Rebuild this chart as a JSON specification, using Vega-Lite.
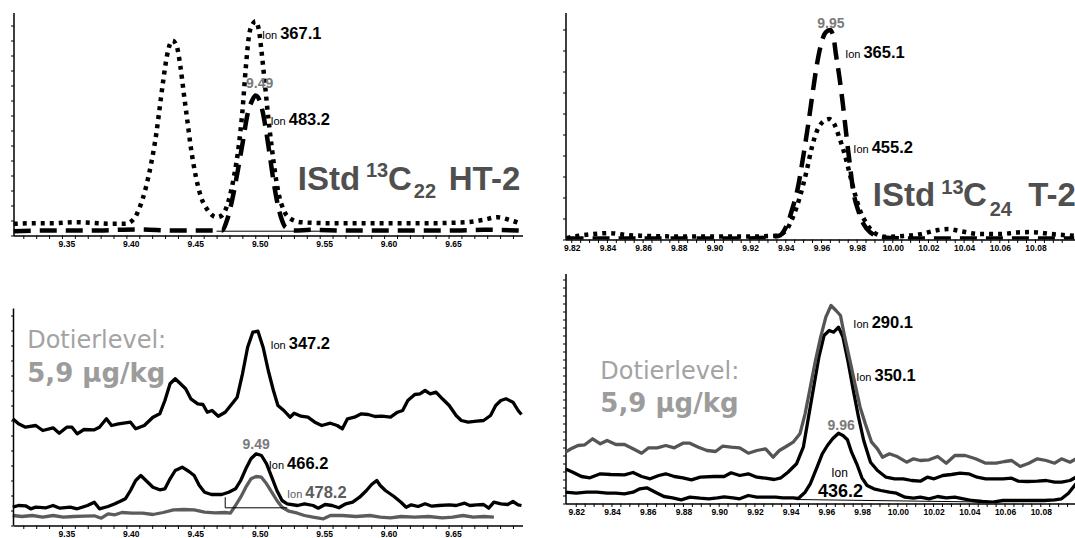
{
  "$schema": "https://vega.github.io/schema/vega-lite/v6.json",
  "background": "white",
  "padding": {"left": 4.5, "top": 11.5, "right": 0, "bottom": 0},
  "config": {
    "view": {"stroke": null},
    "axis": {"domainColor": "black", "domainWidth": 1.5, "tickColor": "black", "tickWidth": 1, "tickSize": 3, "labelColor": "black", "labelFont": "Liberation Sans", "labelFontWeight": "bold", "labelFontSize": 8.5, "labelPadding": 4, "labelFlush": false, "labelOverlap": false, "grid": false, "title": null}
  },
  "spacing": 21,
  "datasets": {
    "ticksLeft": [{"t": 9.31}, {"t": 9.32}, {"t": 9.33}, {"t": 9.34}, {"t": 9.35}, {"t": 9.36}, {"t": 9.37}, {"t": 9.38}, {"t": 9.39}, {"t": 9.4}, {"t": 9.41}, {"t": 9.42}, {"t": 9.43}, {"t": 9.44}, {"t": 9.45}, {"t": 9.46}, {"t": 9.47}, {"t": 9.48}, {"t": 9.49}, {"t": 9.5}, {"t": 9.51}, {"t": 9.52}, {"t": 9.53}, {"t": 9.54}, {"t": 9.55}, {"t": 9.56}, {"t": 9.57}, {"t": 9.58}, {"t": 9.59}, {"t": 9.6}, {"t": 9.61}, {"t": 9.62}, {"t": 9.63}, {"t": 9.64}, {"t": 9.65}, {"t": 9.66}, {"t": 9.67}, {"t": 9.68}, {"t": 9.69}],
    "ticksRight": [{"t": 9.82}, {"t": 9.825}, {"t": 9.83}, {"t": 9.835}, {"t": 9.84}, {"t": 9.845}, {"t": 9.85}, {"t": 9.855}, {"t": 9.86}, {"t": 9.865}, {"t": 9.87}, {"t": 9.875}, {"t": 9.88}, {"t": 9.885}, {"t": 9.89}, {"t": 9.895}, {"t": 9.9}, {"t": 9.905}, {"t": 9.91}, {"t": 9.915}, {"t": 9.92}, {"t": 9.925}, {"t": 9.93}, {"t": 9.935}, {"t": 9.94}, {"t": 9.945}, {"t": 9.95}, {"t": 9.955}, {"t": 9.96}, {"t": 9.965}, {"t": 9.97}, {"t": 9.975}, {"t": 9.98}, {"t": 9.985}, {"t": 9.99}, {"t": 9.995}, {"t": 10}, {"t": 10.005}, {"t": 10.01}, {"t": 10.015}, {"t": 10.02}, {"t": 10.025}, {"t": 10.03}, {"t": 10.035}, {"t": 10.04}, {"t": 10.045}, {"t": 10.05}, {"t": 10.055}, {"t": 10.06}, {"t": 10.065}, {"t": 10.07}, {"t": 10.075}, {"t": 10.08}, {"t": 10.085}, {"t": 10.09}, {"t": 10.095}],
    "tl": [
      {"ion": "367.1", "t": 9.3022, "y": 11.7}, {"ion": "367.1", "t": 9.3193, "y": 12.3}, {"ion": "367.1", "t": 9.3327, "y": 12.3}, {"ion": "367.1", "t": 9.3499, "y": 13.3}, {"ion": "367.1", "t": 9.3621, "y": 12.7}, {"ion": "367.1", "t": 9.3781, "y": 11.7}, {"ion": "367.1", "t": 9.3888, "y": 11.7}, {"ion": "367.1", "t": 9.3955, "y": 16.7}, {"ion": "367.1", "t": 9.3995, "y": 26.7}, {"ion": "367.1", "t": 9.4048, "y": 48.3}, {"ion": "367.1", "t": 9.4088, "y": 71.7}, {"ion": "367.1", "t": 9.4128, "y": 101.7}, {"ion": "367.1", "t": 9.4155, "y": 128.3}, {"ion": "367.1", "t": 9.4182, "y": 155}, {"ion": "367.1", "t": 9.4209, "y": 178.3}, {"ion": "367.1", "t": 9.4235, "y": 191.7}, {"ion": "367.1", "t": 9.4254, "y": 195}, {"ion": "367.1", "t": 9.4289, "y": 188.3}, {"ion": "367.1", "t": 9.4316, "y": 168.3}, {"ion": "367.1", "t": 9.4342, "y": 141.7}, {"ion": "367.1", "t": 9.4369, "y": 115}, {"ion": "367.1", "t": 9.4396, "y": 88.3}, {"ion": "367.1", "t": 9.4436, "y": 58.3}, {"ion": "367.1", "t": 9.4476, "y": 38.3}, {"ion": "367.1", "t": 9.4529, "y": 25}, {"ion": "367.1", "t": 9.4596, "y": 18.3}, {"ion": "367.1", "t": 9.4636, "y": 20}, {"ion": "367.1", "t": 9.469, "y": 35}, {"ion": "367.1", "t": 9.473, "y": 58.3}, {"ion": "367.1", "t": 9.477, "y": 91.7}, {"ion": "367.1", "t": 9.4797, "y": 125}, {"ion": "367.1", "t": 9.4823, "y": 168.3}, {"ion": "367.1", "t": 9.485, "y": 201.7}, {"ion": "367.1", "t": 9.4877, "y": 211.7}, {"ion": "367.1", "t": 9.4898, "y": 214.3}, {"ion": "367.1", "t": 9.4925, "y": 205}, {"ion": "367.1", "t": 9.4944, "y": 185}, {"ion": "367.1", "t": 9.4971, "y": 151.7}, {"ion": "367.1", "t": 9.4997, "y": 118.3}, {"ion": "367.1", "t": 9.5024, "y": 88.3}, {"ion": "367.1", "t": 9.5051, "y": 61.7}, {"ion": "367.1", "t": 9.5078, "y": 41.7}, {"ion": "367.1", "t": 9.5118, "y": 25}, {"ion": "367.1", "t": 9.5171, "y": 16.7}, {"ion": "367.1", "t": 9.5251, "y": 13.3}, {"ion": "367.1", "t": 9.5465, "y": 12.3}, {"ion": "367.1", "t": 9.5732, "y": 12.3}, {"ion": "367.1", "t": 9.5999, "y": 12.3}, {"ion": "367.1", "t": 9.6267, "y": 12.3}, {"ion": "367.1", "t": 9.6534, "y": 13.3}, {"ion": "367.1", "t": 9.6668, "y": 15.7}, {"ion": "367.1", "t": 9.6775, "y": 18.3}, {"ion": "367.1", "t": 9.6882, "y": 15}, {"ion": "367.1", "t": 9.6949, "y": 12.3},
      {"ion": "483.2", "t": 9.3022, "y": 4.3}, {"ion": "483.2", "t": 9.3327, "y": 5}, {"ion": "483.2", "t": 9.3594, "y": 5}, {"ion": "483.2", "t": 9.3995, "y": 6}, {"ion": "483.2", "t": 9.4262, "y": 5}, {"ion": "483.2", "t": 9.4529, "y": 5}, {"ion": "483.2", "t": 9.4636, "y": 5}, {"ion": "483.2", "t": 9.4676, "y": 15}, {"ion": "483.2", "t": 9.4716, "y": 35}, {"ion": "483.2", "t": 9.4756, "y": 61.7}, {"ion": "483.2", "t": 9.4797, "y": 91.7}, {"ion": "483.2", "t": 9.4837, "y": 121.7}, {"ion": "483.2", "t": 9.4872, "y": 135}, {"ion": "483.2", "t": 9.4898, "y": 140}, {"ion": "483.2", "t": 9.493, "y": 135}, {"ion": "483.2", "t": 9.4957, "y": 121.7}, {"ion": "483.2", "t": 9.4984, "y": 101.7}, {"ion": "483.2", "t": 9.5011, "y": 78.3}, {"ion": "483.2", "t": 9.5037, "y": 55}, {"ion": "483.2", "t": 9.5064, "y": 35}, {"ion": "483.2", "t": 9.5096, "y": 18.3}, {"ion": "483.2", "t": 9.5131, "y": 8.3}, {"ion": "483.2", "t": 9.5198, "y": 5}, {"ion": "483.2", "t": 9.5331, "y": 5.7}, {"ion": "483.2", "t": 9.5599, "y": 5}, {"ion": "483.2", "t": 9.5866, "y": 5}, {"ion": "483.2", "t": 9.6133, "y": 5}, {"ion": "483.2", "t": 9.64, "y": 5}, {"ion": "483.2", "t": 9.6668, "y": 5.7}, {"ion": "483.2", "t": 9.6962, "y": 5}
    ],
    "tr": [
      {"ion": "365.1", "t": 9.8171, "y": 1}, {"ion": "365.1", "t": 9.8413, "y": 1}, {"ion": "365.1", "t": 9.88, "y": 1}, {"ion": "365.1", "t": 9.9187, "y": 1}, {"ion": "365.1", "t": 9.9362, "y": 3.7}, {"ion": "365.1", "t": 9.94, "y": 12}, {"ion": "365.1", "t": 9.9439, "y": 32}, {"ion": "365.1", "t": 9.9468, "y": 52}, {"ion": "365.1", "t": 9.9497, "y": 82}, {"ion": "365.1", "t": 9.9526, "y": 115.4}, {"ion": "365.1", "t": 9.9555, "y": 152}, {"ion": "365.1", "t": 9.9575, "y": 175.4}, {"ion": "365.1", "t": 9.9598, "y": 195.4}, {"ion": "365.1", "t": 9.9623, "y": 207}, {"ion": "365.1", "t": 9.9648, "y": 209.4}, {"ion": "365.1", "t": 9.9668, "y": 202}, {"ion": "365.1", "t": 9.9681, "y": 185.4}, {"ion": "365.1", "t": 9.9701, "y": 162}, {"ion": "365.1", "t": 9.972, "y": 135.4}, {"ion": "365.1", "t": 9.9739, "y": 105.4}, {"ion": "365.1", "t": 9.9759, "y": 75.4}, {"ion": "365.1", "t": 9.9778, "y": 48.7}, {"ion": "365.1", "t": 9.9807, "y": 28.7}, {"ion": "365.1", "t": 9.9836, "y": 15.4}, {"ion": "365.1", "t": 9.9875, "y": 7}, {"ion": "365.1", "t": 9.9943, "y": 2}, {"ion": "365.1", "t": 10.0156, "y": 1}, {"ion": "365.1", "t": 10.0543, "y": 1}, {"ion": "365.1", "t": 10.1017, "y": 1},
      {"ion": "455.2", "t": 9.8171, "y": 1.4}, {"ion": "455.2", "t": 9.8239, "y": 3.7}, {"ion": "455.2", "t": 9.8316, "y": 5.4}, {"ion": "455.2", "t": 9.8413, "y": 6.4}, {"ion": "455.2", "t": 9.851, "y": 4.4}, {"ion": "455.2", "t": 9.8607, "y": 3.7}, {"ion": "455.2", "t": 9.88, "y": 3}, {"ion": "455.2", "t": 9.8994, "y": 3}, {"ion": "455.2", "t": 9.9187, "y": 3}, {"ion": "455.2", "t": 9.9342, "y": 3.7}, {"ion": "455.2", "t": 9.9381, "y": 6}, {"ion": "455.2", "t": 9.94, "y": 8.7}, {"ion": "455.2", "t": 9.9439, "y": 22}, {"ion": "455.2", "t": 9.9478, "y": 42}, {"ion": "455.2", "t": 9.9517, "y": 68.7}, {"ion": "455.2", "t": 9.9546, "y": 92}, {"ion": "455.2", "t": 9.9575, "y": 108.7}, {"ion": "455.2", "t": 9.9604, "y": 117}, {"ion": "455.2", "t": 9.9643, "y": 120.4}, {"ion": "455.2", "t": 9.9672, "y": 115.4}, {"ion": "455.2", "t": 9.97, "y": 102}, {"ion": "455.2", "t": 9.973, "y": 85.4}, {"ion": "455.2", "t": 9.9759, "y": 65.4}, {"ion": "455.2", "t": 9.9788, "y": 45.4}, {"ion": "455.2", "t": 9.9817, "y": 28.7}, {"ion": "455.2", "t": 9.9855, "y": 15.4}, {"ion": "455.2", "t": 9.9894, "y": 7}, {"ion": "455.2", "t": 9.9962, "y": 2.7}, {"ion": "455.2", "t": 10.0059, "y": 3.4}, {"ion": "455.2", "t": 10.0156, "y": 5.4}, {"ion": "455.2", "t": 10.0253, "y": 9.4}, {"ion": "455.2", "t": 10.0311, "y": 10.4}, {"ion": "455.2", "t": 10.0388, "y": 8}, {"ion": "455.2", "t": 10.0485, "y": 5.4}, {"ion": "455.2", "t": 10.0601, "y": 5.4}, {"ion": "455.2", "t": 10.0698, "y": 7}, {"ion": "455.2", "t": 10.0775, "y": 7.4}, {"ion": "455.2", "t": 10.0891, "y": 5.4}, {"ion": "455.2", "t": 10.1017, "y": 3.7}
    ],
    "bl": [
      {"ion": "347.2", "t": 9.3014, "y": 106.7}, {"ion": "347.2", "t": 9.3059, "y": 101.7}, {"ion": "347.2", "t": 9.3113, "y": 98.3}, {"ion": "347.2", "t": 9.3193, "y": 100}, {"ion": "347.2", "t": 9.3247, "y": 95}, {"ion": "347.2", "t": 9.3327, "y": 97.7}, {"ion": "347.2", "t": 9.3375, "y": 92.3}, {"ion": "347.2", "t": 9.3433, "y": 98.3}, {"ion": "347.2", "t": 9.3474, "y": 98.3}, {"ion": "347.2", "t": 9.3514, "y": 91.7}, {"ion": "347.2", "t": 9.3567, "y": 96}, {"ion": "347.2", "t": 9.3647, "y": 95.7}, {"ion": "347.2", "t": 9.3687, "y": 98.3}, {"ion": "347.2", "t": 9.3741, "y": 106.7}, {"ion": "347.2", "t": 9.3781, "y": 100}, {"ion": "347.2", "t": 9.3835, "y": 101.7}, {"ion": "347.2", "t": 9.3928, "y": 103.3}, {"ion": "347.2", "t": 9.3968, "y": 96.7}, {"ion": "347.2", "t": 9.4035, "y": 100}, {"ion": "347.2", "t": 9.4102, "y": 108.3}, {"ion": "347.2", "t": 9.4155, "y": 111.7}, {"ion": "347.2", "t": 9.4195, "y": 125}, {"ion": "347.2", "t": 9.4235, "y": 141.7}, {"ion": "347.2", "t": 9.4275, "y": 146.7}, {"ion": "347.2", "t": 9.4316, "y": 141.7}, {"ion": "347.2", "t": 9.4356, "y": 136.7}, {"ion": "347.2", "t": 9.4396, "y": 126.7}, {"ion": "347.2", "t": 9.445, "y": 121.7}, {"ion": "347.2", "t": 9.449, "y": 121}, {"ion": "347.2", "t": 9.4524, "y": 113.3}, {"ion": "347.2", "t": 9.4561, "y": 115}, {"ion": "347.2", "t": 9.4609, "y": 109.3}, {"ion": "347.2", "t": 9.4663, "y": 113.3}, {"ion": "347.2", "t": 9.4716, "y": 121.7}, {"ion": "347.2", "t": 9.4756, "y": 128.3}, {"ion": "347.2", "t": 9.4797, "y": 151.7}, {"ion": "347.2", "t": 9.4837, "y": 178.3}, {"ion": "347.2", "t": 9.4877, "y": 193.3}, {"ion": "347.2", "t": 9.4917, "y": 194.3}, {"ion": "347.2", "t": 9.4957, "y": 178.3}, {"ion": "347.2", "t": 9.4997, "y": 155}, {"ion": "347.2", "t": 9.5037, "y": 135}, {"ion": "347.2", "t": 9.5072, "y": 120}, {"ion": "347.2", "t": 9.5118, "y": 115}, {"ion": "347.2", "t": 9.5166, "y": 108.3}, {"ion": "347.2", "t": 9.5198, "y": 112.3}, {"ion": "347.2", "t": 9.5251, "y": 109.3}, {"ion": "347.2", "t": 9.5305, "y": 108.3}, {"ion": "347.2", "t": 9.5358, "y": 103.3}, {"ion": "347.2", "t": 9.5412, "y": 100}, {"ion": "347.2", "t": 9.5479, "y": 102.3}, {"ion": "347.2", "t": 9.5532, "y": 100}, {"ion": "347.2", "t": 9.5572, "y": 96.7}, {"ion": "347.2", "t": 9.5612, "y": 106.7}, {"ion": "347.2", "t": 9.5666, "y": 108.3}, {"ion": "347.2", "t": 9.5719, "y": 111.7}, {"ion": "347.2", "t": 9.5772, "y": 111}, {"ion": "347.2", "t": 9.5826, "y": 109}, {"ion": "347.2", "t": 9.588, "y": 109.3}, {"ion": "347.2", "t": 9.5946, "y": 108.3}, {"ion": "347.2", "t": 9.6, "y": 113.3}, {"ion": "347.2", "t": 9.604, "y": 115}, {"ion": "347.2", "t": 9.608, "y": 125}, {"ion": "347.2", "t": 9.6134, "y": 131}, {"ion": "347.2", "t": 9.6174, "y": 131.7}, {"ion": "347.2", "t": 9.6214, "y": 135}, {"ion": "347.2", "t": 9.6254, "y": 131.7}, {"ion": "347.2", "t": 9.6299, "y": 133.3}, {"ion": "347.2", "t": 9.6348, "y": 126.7}, {"ion": "347.2", "t": 9.6401, "y": 120}, {"ion": "347.2", "t": 9.6455, "y": 110}, {"ion": "347.2", "t": 9.6495, "y": 105}, {"ion": "347.2", "t": 9.6548, "y": 103.3}, {"ion": "347.2", "t": 9.6615, "y": 104.3}, {"ion": "347.2", "t": 9.6668, "y": 105}, {"ion": "347.2", "t": 9.6722, "y": 110}, {"ion": "347.2", "t": 9.6762, "y": 120}, {"ion": "347.2", "t": 9.6802, "y": 125}, {"ion": "347.2", "t": 9.6842, "y": 126.7}, {"ion": "347.2", "t": 9.6896, "y": 123.3}, {"ion": "347.2", "t": 9.6936, "y": 115}, {"ion": "347.2", "t": 9.6962, "y": 111},
      {"ion": "466.2", "t": 9.3014, "y": 18.3}, {"ion": "466.2", "t": 9.3059, "y": 20}, {"ion": "466.2", "t": 9.3113, "y": 19.7}, {"ion": "466.2", "t": 9.3153, "y": 16.7}, {"ion": "466.2", "t": 9.3193, "y": 18.3}, {"ion": "466.2", "t": 9.3273, "y": 17.7}, {"ion": "466.2", "t": 9.3327, "y": 20}, {"ion": "466.2", "t": 9.338, "y": 17.3}, {"ion": "466.2", "t": 9.346, "y": 18.3}, {"ion": "466.2", "t": 9.3514, "y": 16.7}, {"ion": "466.2", "t": 9.3594, "y": 20}, {"ion": "466.2", "t": 9.3647, "y": 23.3}, {"ion": "466.2", "t": 9.3687, "y": 16.7}, {"ion": "466.2", "t": 9.3754, "y": 19}, {"ion": "466.2", "t": 9.3807, "y": 21.7}, {"ion": "466.2", "t": 9.3861, "y": 25}, {"ion": "466.2", "t": 9.3888, "y": 26.7}, {"ion": "466.2", "t": 9.3928, "y": 35}, {"ion": "466.2", "t": 9.3968, "y": 45}, {"ion": "466.2", "t": 9.4008, "y": 50}, {"ion": "466.2", "t": 9.4048, "y": 45}, {"ion": "466.2", "t": 9.4102, "y": 38.3}, {"ion": "466.2", "t": 9.4155, "y": 35.7}, {"ion": "466.2", "t": 9.4195, "y": 36.7}, {"ion": "466.2", "t": 9.4235, "y": 46.7}, {"ion": "466.2", "t": 9.4275, "y": 55}, {"ion": "466.2", "t": 9.4329, "y": 58.3}, {"ion": "466.2", "t": 9.4382, "y": 54}, {"ion": "466.2", "t": 9.4422, "y": 50}, {"ion": "466.2", "t": 9.4462, "y": 40}, {"ion": "466.2", "t": 9.4503, "y": 33.3}, {"ion": "466.2", "t": 9.4556, "y": 31}, {"ion": "466.2", "t": 9.4636, "y": 31}, {"ion": "466.2", "t": 9.469, "y": 33.3}, {"ion": "466.2", "t": 9.4743, "y": 36.7}, {"ion": "466.2", "t": 9.4783, "y": 45}, {"ion": "466.2", "t": 9.4823, "y": 56.7}, {"ion": "466.2", "t": 9.4863, "y": 66.7}, {"ion": "466.2", "t": 9.4903, "y": 71.7}, {"ion": "466.2", "t": 9.4944, "y": 70}, {"ion": "466.2", "t": 9.4984, "y": 61.7}, {"ion": "466.2", "t": 9.5024, "y": 48.3}, {"ion": "466.2", "t": 9.5064, "y": 35}, {"ion": "466.2", "t": 9.5104, "y": 25}, {"ion": "466.2", "t": 9.5144, "y": 21.7}, {"ion": "466.2", "t": 9.5224, "y": 20}, {"ion": "466.2", "t": 9.5278, "y": 21.7}, {"ion": "466.2", "t": 9.5345, "y": 20}, {"ion": "466.2", "t": 9.5385, "y": 17.3}, {"ion": "466.2", "t": 9.5438, "y": 21}, {"ion": "466.2", "t": 9.5492, "y": 20}, {"ion": "466.2", "t": 9.5545, "y": 17.7}, {"ion": "466.2", "t": 9.5599, "y": 21.7}, {"ion": "466.2", "t": 9.5652, "y": 23.3}, {"ion": "466.2", "t": 9.5706, "y": 28.3}, {"ion": "466.2", "t": 9.5759, "y": 35}, {"ion": "466.2", "t": 9.5799, "y": 41}, {"ion": "466.2", "t": 9.5839, "y": 45}, {"ion": "466.2", "t": 9.5866, "y": 40}, {"ion": "466.2", "t": 9.5906, "y": 35}, {"ion": "466.2", "t": 9.5973, "y": 29}, {"ion": "466.2", "t": 9.6027, "y": 23.3}, {"ion": "466.2", "t": 9.6067, "y": 18.3}, {"ion": "466.2", "t": 9.6107, "y": 20.7}, {"ion": "466.2", "t": 9.616, "y": 19}, {"ion": "466.2", "t": 9.6214, "y": 21.7}, {"ion": "466.2", "t": 9.6267, "y": 19.3}, {"ion": "466.2", "t": 9.632, "y": 20}, {"ion": "466.2", "t": 9.6401, "y": 20.7}, {"ion": "466.2", "t": 9.6455, "y": 20}, {"ion": "466.2", "t": 9.6521, "y": 22.3}, {"ion": "466.2", "t": 9.6561, "y": 20}, {"ion": "466.2", "t": 9.6615, "y": 20.7}, {"ion": "466.2", "t": 9.6668, "y": 21}, {"ion": "466.2", "t": 9.6708, "y": 17.3}, {"ion": "466.2", "t": 9.6748, "y": 23.3}, {"ion": "466.2", "t": 9.6802, "y": 21.7}, {"ion": "466.2", "t": 9.6855, "y": 21}, {"ion": "466.2", "t": 9.6896, "y": 24}, {"ion": "466.2", "t": 9.6936, "y": 20.7}, {"ion": "466.2", "t": 9.6962, "y": 20},
      {"ion": "478.2", "t": 9.3014, "y": 10}, {"ion": "478.2", "t": 9.3086, "y": 9}, {"ion": "478.2", "t": 9.3166, "y": 10}, {"ion": "478.2", "t": 9.3247, "y": 8.3}, {"ion": "478.2", "t": 9.3327, "y": 10}, {"ion": "478.2", "t": 9.3407, "y": 8.3}, {"ion": "478.2", "t": 9.3487, "y": 9}, {"ion": "478.2", "t": 9.3567, "y": 9.3}, {"ion": "478.2", "t": 9.3647, "y": 9.7}, {"ion": "478.2", "t": 9.3701, "y": 7.3}, {"ion": "478.2", "t": 9.3754, "y": 11.7}, {"ion": "478.2", "t": 9.3807, "y": 10.7}, {"ion": "478.2", "t": 9.3861, "y": 13}, {"ion": "478.2", "t": 9.3941, "y": 12.3}, {"ion": "478.2", "t": 9.4021, "y": 12.3}, {"ion": "478.2", "t": 9.4102, "y": 11}, {"ion": "478.2", "t": 9.4182, "y": 13}, {"ion": "478.2", "t": 9.4262, "y": 15.7}, {"ion": "478.2", "t": 9.4342, "y": 16}, {"ion": "478.2", "t": 9.4422, "y": 15.7}, {"ion": "478.2", "t": 9.4503, "y": 13.3}, {"ion": "478.2", "t": 9.4583, "y": 12.7}, {"ion": "478.2", "t": 9.4663, "y": 13}, {"ion": "478.2", "t": 9.4703, "y": 12.3}, {"ion": "478.2", "t": 9.4743, "y": 20}, {"ion": "478.2", "t": 9.4783, "y": 28.3}, {"ion": "478.2", "t": 9.4823, "y": 38.3}, {"ion": "478.2", "t": 9.4863, "y": 46.7}, {"ion": "478.2", "t": 9.4903, "y": 49}, {"ion": "478.2", "t": 9.4944, "y": 48.3}, {"ion": "478.2", "t": 9.4984, "y": 41.7}, {"ion": "478.2", "t": 9.5024, "y": 33.3}, {"ion": "478.2", "t": 9.5064, "y": 25}, {"ion": "478.2", "t": 9.5104, "y": 18.3}, {"ion": "478.2", "t": 9.5158, "y": 14.3}, {"ion": "478.2", "t": 9.5224, "y": 12.3}, {"ion": "478.2", "t": 9.5278, "y": 10}, {"ion": "478.2", "t": 9.5345, "y": 8.3}, {"ion": "478.2", "t": 9.5425, "y": 6.7}, {"ion": "478.2", "t": 9.5479, "y": 10}, {"ion": "478.2", "t": 9.5572, "y": 10}, {"ion": "478.2", "t": 9.5679, "y": 9}, {"ion": "478.2", "t": 9.5786, "y": 10}, {"ion": "478.2", "t": 9.5866, "y": 8.3}, {"ion": "478.2", "t": 9.5946, "y": 7.7}, {"ion": "478.2", "t": 9.6027, "y": 9}, {"ion": "478.2", "t": 9.6134, "y": 8.3}, {"ion": "478.2", "t": 9.6241, "y": 9}, {"ion": "478.2", "t": 9.6348, "y": 7.7}, {"ion": "478.2", "t": 9.6428, "y": 8.3}, {"ion": "478.2", "t": 9.6508, "y": 10}, {"ion": "478.2", "t": 9.6588, "y": 8.3}, {"ion": "478.2", "t": 9.6668, "y": 9}, {"ion": "478.2", "t": 9.6748, "y": 8.3}
    ],
    "br": [
      {"ion": "290.1", "t": 9.8138, "y": 51.3}, {"ion": "290.1", "t": 9.8171, "y": 54.7}, {"ion": "290.1", "t": 9.821, "y": 58}, {"ion": "290.1", "t": 9.8248, "y": 58.7}, {"ion": "290.1", "t": 9.8292, "y": 64.7}, {"ion": "290.1", "t": 9.8335, "y": 59.7}, {"ion": "290.1", "t": 9.8373, "y": 63}, {"ion": "290.1", "t": 9.8422, "y": 59}, {"ion": "290.1", "t": 9.847, "y": 59}, {"ion": "290.1", "t": 9.8518, "y": 54.7}, {"ion": "290.1", "t": 9.8566, "y": 50.3}, {"ion": "290.1", "t": 9.8605, "y": 55.7}, {"ion": "290.1", "t": 9.8653, "y": 55.7}, {"ion": "290.1", "t": 9.8701, "y": 58}, {"ion": "290.1", "t": 9.8749, "y": 55.7}, {"ion": "290.1", "t": 9.8797, "y": 60.3}, {"ion": "290.1", "t": 9.8836, "y": 60.3}, {"ion": "290.1", "t": 9.8884, "y": 56.3}, {"ion": "290.1", "t": 9.8932, "y": 53}, {"ion": "290.1", "t": 9.898, "y": 52}, {"ion": "290.1", "t": 9.9019, "y": 57.3}, {"ion": "290.1", "t": 9.9067, "y": 56.3}, {"ion": "290.1", "t": 9.9115, "y": 55.7}, {"ion": "290.1", "t": 9.9163, "y": 50.3}, {"ion": "290.1", "t": 9.9211, "y": 53}, {"ion": "290.1", "t": 9.926, "y": 54.7}, {"ion": "290.1", "t": 9.9302, "y": 46.3}, {"ion": "290.1", "t": 9.9337, "y": 53}, {"ion": "290.1", "t": 9.9375, "y": 57}, {"ion": "290.1", "t": 9.9414, "y": 61.3}, {"ion": "290.1", "t": 9.9452, "y": 69.7}, {"ion": "290.1", "t": 9.9481, "y": 89.7}, {"ion": "290.1", "t": 9.951, "y": 116.3}, {"ion": "290.1", "t": 9.9539, "y": 143}, {"ion": "290.1", "t": 9.9568, "y": 166.3}, {"ion": "290.1", "t": 9.9597, "y": 186.3}, {"ion": "290.1", "t": 9.9626, "y": 198}, {"ion": "290.1", "t": 9.9654, "y": 193}, {"ion": "290.1", "t": 9.9679, "y": 188}, {"ion": "290.1", "t": 9.9703, "y": 166.3}, {"ion": "290.1", "t": 9.9732, "y": 143}, {"ion": "290.1", "t": 9.976, "y": 119.7}, {"ion": "290.1", "t": 9.9789, "y": 96.3}, {"ion": "290.1", "t": 9.9818, "y": 79.7}, {"ion": "290.1", "t": 9.9853, "y": 61.3}, {"ion": "290.1", "t": 9.9886, "y": 54.7}, {"ion": "290.1", "t": 9.9914, "y": 46.3}, {"ion": "290.1", "t": 9.9953, "y": 49.7}, {"ion": "290.1", "t": 9.9992, "y": 47.3}, {"ion": "290.1", "t": 10.0049, "y": 41.3}, {"ion": "290.1", "t": 10.0088, "y": 44.7}, {"ion": "290.1", "t": 10.0126, "y": 43}, {"ion": "290.1", "t": 10.0175, "y": 43.7}, {"ion": "290.1", "t": 10.0223, "y": 47}, {"ion": "290.1", "t": 10.0271, "y": 40.3}, {"ion": "290.1", "t": 10.0319, "y": 48}, {"ion": "290.1", "t": 10.0377, "y": 48}, {"ion": "290.1", "t": 10.0435, "y": 44.7}, {"ion": "290.1", "t": 10.0492, "y": 40.3}, {"ion": "290.1", "t": 10.055, "y": 40.3}, {"ion": "290.1", "t": 10.0598, "y": 42}, {"ion": "290.1", "t": 10.0637, "y": 43}, {"ion": "290.1", "t": 10.0685, "y": 37}, {"ion": "290.1", "t": 10.0733, "y": 40.3}, {"ion": "290.1", "t": 10.0781, "y": 44.7}, {"ion": "290.1", "t": 10.083, "y": 43}, {"ion": "290.1", "t": 10.0878, "y": 40.3}, {"ion": "290.1", "t": 10.0916, "y": 44.7}, {"ion": "290.1", "t": 10.0964, "y": 41.3}, {"ion": "290.1", "t": 10.0997, "y": 44.7},
      {"ion": "350.1", "t": 9.8138, "y": 34.7}, {"ion": "350.1", "t": 9.8181, "y": 31.3}, {"ion": "350.1", "t": 9.8229, "y": 27}, {"ion": "350.1", "t": 9.8277, "y": 25.7}, {"ion": "350.1", "t": 9.8335, "y": 29.7}, {"ion": "350.1", "t": 9.8393, "y": 29}, {"ion": "350.1", "t": 9.847, "y": 28.7}, {"ion": "350.1", "t": 9.8518, "y": 31}, {"ion": "350.1", "t": 9.8566, "y": 27}, {"ion": "350.1", "t": 9.8614, "y": 24.7}, {"ion": "350.1", "t": 9.8662, "y": 28}, {"ion": "350.1", "t": 9.8701, "y": 29.7}, {"ion": "350.1", "t": 9.8749, "y": 27}, {"ion": "350.1", "t": 9.8797, "y": 25.7}, {"ion": "350.1", "t": 9.8845, "y": 23.7}, {"ion": "350.1", "t": 9.8894, "y": 26.3}, {"ion": "350.1", "t": 9.8971, "y": 27}, {"ion": "350.1", "t": 9.9028, "y": 27}, {"ion": "350.1", "t": 9.9067, "y": 30.7}, {"ion": "350.1", "t": 9.9115, "y": 28}, {"ion": "350.1", "t": 9.9163, "y": 29.7}, {"ion": "350.1", "t": 9.9211, "y": 26.3}, {"ion": "350.1", "t": 9.926, "y": 25.3}, {"ion": "350.1", "t": 9.9308, "y": 24}, {"ion": "350.1", "t": 9.9346, "y": 25.7}, {"ion": "350.1", "t": 9.9385, "y": 31.3}, {"ion": "350.1", "t": 9.9433, "y": 39.7}, {"ion": "350.1", "t": 9.9471, "y": 56.3}, {"ion": "350.1", "t": 9.95, "y": 86.3}, {"ion": "350.1", "t": 9.9529, "y": 116.3}, {"ion": "350.1", "t": 9.9558, "y": 146.3}, {"ion": "350.1", "t": 9.9587, "y": 168}, {"ion": "350.1", "t": 9.9616, "y": 173}, {"ion": "350.1", "t": 9.9641, "y": 171.3}, {"ion": "350.1", "t": 9.9668, "y": 176.3}, {"ion": "350.1", "t": 9.9693, "y": 166.3}, {"ion": "350.1", "t": 9.9722, "y": 141.3}, {"ion": "350.1", "t": 9.9751, "y": 113}, {"ion": "350.1", "t": 9.978, "y": 86.3}, {"ion": "350.1", "t": 9.9809, "y": 63}, {"ion": "350.1", "t": 9.9847, "y": 41.3}, {"ion": "350.1", "t": 9.9886, "y": 33}, {"ion": "350.1", "t": 9.9934, "y": 26.3}, {"ion": "350.1", "t": 9.9982, "y": 24.7}, {"ion": "350.1", "t": 10.003, "y": 24.7}, {"ion": "350.1", "t": 10.0078, "y": 23}, {"ion": "350.1", "t": 10.0126, "y": 22.3}, {"ion": "350.1", "t": 10.0165, "y": 26.3}, {"ion": "350.1", "t": 10.0203, "y": 24.7}, {"ion": "350.1", "t": 10.0252, "y": 28}, {"ion": "350.1", "t": 10.03, "y": 29}, {"ion": "350.1", "t": 10.0348, "y": 30.3}, {"ion": "350.1", "t": 10.0396, "y": 29.7}, {"ion": "350.1", "t": 10.0444, "y": 26.3}, {"ion": "350.1", "t": 10.0492, "y": 24.7}, {"ion": "350.1", "t": 10.0541, "y": 24.7}, {"ion": "350.1", "t": 10.0589, "y": 24.7}, {"ion": "350.1", "t": 10.0637, "y": 25.3}, {"ion": "350.1", "t": 10.0675, "y": 22.3}, {"ion": "350.1", "t": 10.0724, "y": 22}, {"ion": "350.1", "t": 10.0781, "y": 22.3}, {"ion": "350.1", "t": 10.083, "y": 23}, {"ion": "350.1", "t": 10.0878, "y": 21.3}, {"ion": "350.1", "t": 10.0916, "y": 21.3}, {"ion": "350.1", "t": 10.0964, "y": 23}, {"ion": "350.1", "t": 10.0997, "y": 26.3},
      {"ion": "436.2", "t": 9.8138, "y": 11.3}, {"ion": "436.2", "t": 9.82, "y": 10.3}, {"ion": "436.2", "t": 9.8258, "y": 11.3}, {"ion": "436.2", "t": 9.8316, "y": 11.3}, {"ion": "436.2", "t": 9.8373, "y": 10.3}, {"ion": "436.2", "t": 9.8422, "y": 10.3}, {"ion": "436.2", "t": 9.847, "y": 9.7}, {"ion": "436.2", "t": 9.8518, "y": 11.3}, {"ion": "436.2", "t": 9.8556, "y": 14.7}, {"ion": "436.2", "t": 9.8595, "y": 15.7}, {"ion": "436.2", "t": 9.8643, "y": 11.3}, {"ion": "436.2", "t": 9.8691, "y": 7}, {"ion": "436.2", "t": 9.8739, "y": 5.7}, {"ion": "436.2", "t": 9.8788, "y": 3.7}, {"ion": "436.2", "t": 9.8836, "y": 6.3}, {"ion": "436.2", "t": 9.8894, "y": 5.3}, {"ion": "436.2", "t": 9.8942, "y": 4.7}, {"ion": "436.2", "t": 9.899, "y": 5.7}, {"ion": "436.2", "t": 9.9028, "y": 6.7}, {"ion": "436.2", "t": 9.9077, "y": 5.7}, {"ion": "436.2", "t": 9.9115, "y": 4.7}, {"ion": "436.2", "t": 9.9163, "y": 8}, {"ion": "436.2", "t": 9.9211, "y": 6.3}, {"ion": "436.2", "t": 9.926, "y": 6.3}, {"ion": "436.2", "t": 9.9317, "y": 6.3}, {"ion": "436.2", "t": 9.9356, "y": 5.7}, {"ion": "436.2", "t": 9.9414, "y": 5.7}, {"ion": "436.2", "t": 9.9443, "y": 5}, {"ion": "436.2", "t": 9.9481, "y": 11.3}, {"ion": "436.2", "t": 9.951, "y": 19.7}, {"ion": "436.2", "t": 9.9548, "y": 36.3}, {"ion": "436.2", "t": 9.9577, "y": 49.7}, {"ion": "436.2", "t": 9.9606, "y": 58}, {"ion": "436.2", "t": 9.9635, "y": 64.7}, {"ion": "436.2", "t": 9.9668, "y": 70.3}, {"ion": "436.2", "t": 9.9693, "y": 68}, {"ion": "436.2", "t": 9.9718, "y": 63.7}, {"ion": "436.2", "t": 9.9741, "y": 51.3}, {"ion": "436.2", "t": 9.977, "y": 39.7}, {"ion": "436.2", "t": 9.9799, "y": 25.7}, {"ion": "436.2", "t": 9.9828, "y": 18}, {"ion": "436.2", "t": 9.9866, "y": 14.7}, {"ion": "436.2", "t": 9.9905, "y": 13}, {"ion": "436.2", "t": 9.9953, "y": 11.3}, {"ion": "436.2", "t": 9.9992, "y": 10.3}, {"ion": "436.2", "t": 10.004, "y": 6.3}, {"ion": "436.2", "t": 10.0088, "y": 5.3}, {"ion": "436.2", "t": 10.0126, "y": 6.3}, {"ion": "436.2", "t": 10.0175, "y": 4.7}, {"ion": "436.2", "t": 10.0223, "y": 7}, {"ion": "436.2", "t": 10.0271, "y": 5.7}, {"ion": "436.2", "t": 10.0319, "y": 6.3}, {"ion": "436.2", "t": 10.0367, "y": 4.7}, {"ion": "436.2", "t": 10.0415, "y": 3}, {"ion": "436.2", "t": 10.0473, "y": 2}, {"ion": "436.2", "t": 10.0531, "y": 1.3}, {"ion": "436.2", "t": 10.0589, "y": 3}, {"ion": "436.2", "t": 10.0647, "y": 3}, {"ion": "436.2", "t": 10.0704, "y": 3}, {"ion": "436.2", "t": 10.0762, "y": 3}, {"ion": "436.2", "t": 10.082, "y": 3}, {"ion": "436.2", "t": 10.0878, "y": 3.7}, {"ion": "436.2", "t": 10.0916, "y": 4.7}, {"ion": "436.2", "t": 10.0955, "y": 10.3}, {"ion": "436.2", "t": 10.0997, "y": 19.7}
    ],
    "ionLabels": [
      {"panel": "tl", "t": 9.5078, "y": 196.7, "ion": "367.1"},
      {"panel": "tl", "t": 9.5144, "y": 111, "ion": "483.2"},
      {"panel": "tr", "t": 9.9827, "y": 181.4, "ion": "365.1"},
      {"panel": "tr", "t": 9.9873, "y": 87, "ion": "455.2"},
      {"panel": "bl", "t": 9.5144, "y": 176.7, "ion": "347.2"},
      {"panel": "bl", "t": 9.5131, "y": 56.7, "ion": "466.2"},
      {"panel": "bl", "t": 9.5273, "y": 27.3, "ion": "478.2"},
      {"panel": "br", "t": 9.9845, "y": 175.7, "ion": "290.1"},
      {"panel": "br", "t": 9.9861, "y": 123, "ion": "350.1"}
    ],
    "rtLabels": [
      {"panel": "tl", "t": 9.493, "y": 148, "rt": "9.49"},
      {"panel": "tr", "t": 9.9653, "y": 211.4, "rt": "9.95"},
      {"panel": "bl", "t": 9.4903, "y": 76.7, "rt": "9.49"},
      {"panel": "br", "t": 9.9683, "y": 73.7, "rt": "9.96"}
    ],
    "titleText": [
      {"panel": "tl", "part": "big", "t": 9.5226, "y": 45.7, "text": "IStd"},
      {"panel": "tl", "part": "small", "t": 9.5755, "y": 58.3, "text": "13"},
      {"panel": "tl", "part": "big", "t": 9.5926, "y": 45.7, "text": "C"},
      {"panel": "tl", "part": "small", "t": 9.6127, "y": 37.5, "text": "22"},
      {"panel": "tl", "part": "big", "t": 9.6398, "y": 45.7, "text": "HT-2"},
      {"panel": "tr", "part": "big", "t": 9.9888, "y": 33.7, "text": "IStd"},
      {"panel": "tr", "part": "small", "t": 10.0272, "y": 45.4, "text": "13"},
      {"panel": "tr", "part": "big", "t": 10.0394, "y": 33.7, "text": "C"},
      {"panel": "tr", "part": "small", "t": 10.0543, "y": 23.7, "text": "24"},
      {"panel": "tr", "part": "big", "t": 10.0759, "y": 33.7, "text": "T-2"}
    ],
    "spikeLevel": [
      {"panel": "bl", "line": 1, "t": 9.3126, "y": 177.3, "text": "Dotierlevel:"},
      {"panel": "bl", "line": 2, "t": 9.3126, "y": 143.3, "text": "5,9 µg/kg"},
      {"panel": "br", "line": 1, "t": 9.8335, "y": 124.7, "text": "Dotierlevel:"},
      {"panel": "br", "line": 2, "t": 9.8335, "y": 91.3, "text": "5,9 µg/kg"}
    ]
  },
  "vconcat": [
    {
      "bounds": "flush",
      "spacing": 43,
      "hconcat": [
        {
          "width": 509,
          "height": 223,
          "layer": [
            {
              "data": {"name": "tl"},
              "transform": [{"filter": "datum.ion === '367.1'"}],
              "mark": {"type": "line", "stroke": "black", "strokeWidth": 4.5, "strokeDash": [4, 5], "strokeCap": "butt", "interpolate": "monotone"},
              "encoding": {
                "x": {"field": "t", "type": "quantitative", "scale": {"domain": [9.302, 9.697], "nice": false, "zero": false},
                  "axis": {"values": [9.35, 9.4, 9.45, 9.5, 9.55, 9.6, 9.65], "tickCount": 100, "format": ".2f", "ticks": false, "labelOffset": -9, "labelOverlap": false}},
                "y": {"field": "y", "type": "quantitative", "scale": {"domain": [0, 223], "nice": false}, "axis": {"values": [0, 15, 30, 45, 60, 75, 90, 105, 120, 135, 150, 165, 180, 195, 210], "tickCount": 100, "labels": false}}
              }
            },
            {
              "data": {"name": "tl"},
              "transform": [{"filter": "datum.ion === '483.2'"}],
              "mark": {"type": "line", "stroke": "black", "strokeWidth": 4.5, "strokeDash": [17, 9], "strokeCap": "butt", "interpolate": "monotone"},
              "encoding": {"x": {"field": "t", "type": "quantitative"}, "y": {"field": "y", "type": "quantitative"}}
            },
            {
              "data": {"values": [{"t": 9.4596, "y": 4.3}, {"t": 9.5398, "y": 4.3}]},
              "mark": {"type": "line", "stroke": "black", "strokeWidth": 1},
              "encoding": {"x": {"field": "t", "type": "quantitative"}, "y": {"field": "y", "type": "quantitative"}}
            },
            {
              "data": {"name": "ticksLeft"},
              "mark": {"type": "rule", "stroke": "black", "strokeWidth": 1},
              "encoding": {"x": {"field": "t", "type": "quantitative"}, "y": {"datum": 0, "type": "quantitative"}, "y2": {"datum": -3.5}}
            },
            {
              "data": {"name": "rtLabels"},
              "transform": [{"filter": "datum.panel === 'tl'"}],
              "mark": {"type": "text", "font": "Liberation Sans", "fontWeight": "bold", "fontSize": 14, "fill": "#7a7a7a", "align": "center", "baseline": "alphabetic"},
              "encoding": {"x": {"field": "t", "type": "quantitative"}, "y": {"field": "y", "type": "quantitative"}, "text": {"field": "rt"}}
            },
            {
              "data": {"name": "ionLabels"},
              "transform": [{"filter": "datum.panel === 'tl'"}],
              "mark": {"type": "text", "font": "Liberation Sans", "fontSize": 11, "fill": "black", "align": "right", "baseline": "alphabetic", "dx": -1.5, "text": "Ion"},
              "encoding": {"x": {"field": "t", "type": "quantitative"}, "y": {"field": "y", "type": "quantitative"}}
            },
            {
              "data": {"name": "ionLabels"},
              "transform": [{"filter": "datum.panel === 'tl'"}],
              "mark": {"type": "text", "font": "Liberation Sans", "fontWeight": "bold", "fontSize": 16.5, "fill": "black", "align": "left", "baseline": "alphabetic", "dx": 1.5},
              "encoding": {"x": {"field": "t", "type": "quantitative"}, "y": {"field": "y", "type": "quantitative"}, "text": {"field": "ion"}}
            },
            {
              "data": {"name": "titleText"},
              "transform": [{"filter": "datum.panel === 'tl' && datum.part === 'big'"}],
              "mark": {"type": "text", "font": "Liberation Sans", "fontWeight": "bold", "fontSize": 33, "fill": "#4f4f4f", "align": "left", "baseline": "alphabetic"},
              "encoding": {"x": {"field": "t", "type": "quantitative"}, "y": {"field": "y", "type": "quantitative"}, "text": {"field": "text"}}
            },
            {
              "data": {"name": "titleText"},
              "transform": [{"filter": "datum.panel === 'tl' && datum.part === 'small'"}],
              "mark": {"type": "text", "font": "Liberation Sans", "fontWeight": "bold", "fontSize": 20, "fill": "#4f4f4f", "align": "left", "baseline": "alphabetic"},
              "encoding": {"x": {"field": "t", "type": "quantitative"}, "y": {"field": "y", "type": "quantitative"}, "text": {"field": "text"}}
            }
          ]
        },
        {
          "width": 511,
          "height": 227,
          "layer": [
            {
              "data": {"name": "tr"},
              "transform": [{"filter": "datum.ion === '455.2'"}],
              "mark": {"type": "line", "stroke": "black", "strokeWidth": 4.5, "strokeDash": [4, 5], "strokeCap": "butt", "interpolate": "monotone", "clip": true},
              "encoding": {
                "x": {"field": "t", "type": "quantitative", "scale": {"domain": [9.8165, 10.103], "nice": false, "zero": false},
                  "axis": {"values": [9.82, 9.84, 9.86, 9.88, 9.9, 9.92, 9.94, 9.96, 9.98, 10, 10.02, 10.04, 10.06, 10.08], "tickCount": 100, "format": ".2f", "ticks": false, "labelOverlap": false}},
                "y": {"field": "y", "type": "quantitative", "scale": {"domain": [0, 227], "nice": false}, "axis": {"values": [0, 21, 42, 63, 84, 105, 126, 147, 168, 189, 210], "tickCount": 100, "labels": false}}
              }
            },
            {
              "data": {"name": "tr"},
              "transform": [{"filter": "datum.ion === '365.1'"}],
              "mark": {"type": "line", "stroke": "black", "strokeWidth": 4.5, "strokeDash": [17, 9], "strokeCap": "butt", "interpolate": "monotone", "clip": true},
              "encoding": {"x": {"field": "t", "type": "quantitative"}, "y": {"field": "y", "type": "quantitative"}}
            },
            {
              "data": {"name": "ticksRight"},
              "mark": {"type": "rule", "stroke": "black", "strokeWidth": 1},
              "encoding": {"x": {"field": "t", "type": "quantitative"}, "y": {"datum": 0, "type": "quantitative"}, "y2": {"datum": -3.5}}
            },
            {
              "data": {"name": "rtLabels"},
              "transform": [{"filter": "datum.panel === 'tr'"}],
              "mark": {"type": "text", "font": "Liberation Sans", "fontWeight": "bold", "fontSize": 14, "fill": "#7a7a7a", "align": "center", "baseline": "alphabetic"},
              "encoding": {"x": {"field": "t", "type": "quantitative"}, "y": {"field": "y", "type": "quantitative"}, "text": {"field": "rt"}}
            },
            {
              "data": {"name": "ionLabels"},
              "transform": [{"filter": "datum.panel === 'tr'"}],
              "mark": {"type": "text", "font": "Liberation Sans", "fontSize": 11, "fill": "black", "align": "right", "baseline": "alphabetic", "dx": -1.5, "text": "Ion"},
              "encoding": {"x": {"field": "t", "type": "quantitative"}, "y": {"field": "y", "type": "quantitative"}}
            },
            {
              "data": {"name": "ionLabels"},
              "transform": [{"filter": "datum.panel === 'tr'"}],
              "mark": {"type": "text", "font": "Liberation Sans", "fontWeight": "bold", "fontSize": 16.5, "fill": "black", "align": "left", "baseline": "alphabetic", "dx": 1.5},
              "encoding": {"x": {"field": "t", "type": "quantitative"}, "y": {"field": "y", "type": "quantitative"}, "text": {"field": "ion"}}
            },
            {
              "data": {"name": "titleText"},
              "transform": [{"filter": "datum.panel === 'tr' && datum.part === 'big'"}],
              "mark": {"type": "text", "font": "Liberation Sans", "fontWeight": "bold", "fontSize": 33, "fill": "#4f4f4f", "align": "left", "baseline": "alphabetic", "clip": true},
              "encoding": {"x": {"field": "t", "type": "quantitative"}, "y": {"field": "y", "type": "quantitative"}, "text": {"field": "text"}}
            },
            {
              "data": {"name": "titleText"},
              "transform": [{"filter": "datum.panel === 'tr' && datum.part === 'small'"}],
              "mark": {"type": "text", "font": "Liberation Sans", "fontWeight": "bold", "fontSize": 20, "fill": "#4f4f4f", "align": "left", "baseline": "alphabetic", "clip": true},
              "encoding": {"x": {"field": "t", "type": "quantitative"}, "y": {"field": "y", "type": "quantitative"}, "text": {"field": "text"}}
            }
          ]
        }
      ]
    },
    {
      "bounds": "flush",
      "spacing": 43,
      "hconcat": [
        {
          "width": 509,
          "height": 252,
          "layer": [
            {
              "data": {"name": "bl"},
              "transform": [{"filter": "datum.ion === '478.2'"}],
              "mark": {"type": "line", "stroke": "#5c5c5c", "strokeWidth": 3.3, "strokeJoin": "round"},
              "encoding": {
                "x": {"field": "t", "type": "quantitative", "scale": {"domain": [9.302, 9.697], "nice": false, "zero": false},
                  "axis": {"values": [9.35, 9.4, 9.45, 9.5, 9.55, 9.6, 9.65], "tickCount": 100, "format": ".2f", "ticks": false, "labelOffset": -9, "labelOverlap": false}},
                "y": {"field": "y", "type": "quantitative", "scale": {"domain": [0, 252], "nice": false}, "axis": {"values": [0, 15, 30, 45, 60, 75, 90, 105, 120, 135, 150, 165, 180, 195, 210], "tickCount": 100, "labels": false, "domain": false}}
              }
            },
            {
              "data": {"name": "bl"},
              "transform": [{"filter": "datum.ion === '466.2'"}],
              "mark": {"type": "line", "stroke": "black", "strokeWidth": 3.3, "strokeJoin": "round"},
              "encoding": {"x": {"field": "t", "type": "quantitative"}, "y": {"field": "y", "type": "quantitative"}}
            },
            {
              "data": {"name": "bl"},
              "transform": [{"filter": "datum.ion === '347.2'"}],
              "mark": {"type": "line", "stroke": "black", "strokeWidth": 3.3, "strokeJoin": "round"},
              "encoding": {"x": {"field": "t", "type": "quantitative"}, "y": {"field": "y", "type": "quantitative"}}
            },
            {
              "data": {"values": [{"k": 1, "t": 9.4663, "y": 28.3}, {"k": 2, "t": 9.4663, "y": 17.7}, {"k": 3, "t": 9.5144, "y": 17.7}]},
              "mark": {"type": "line", "stroke": "black", "strokeWidth": 1},
              "encoding": {"x": {"field": "t", "type": "quantitative"}, "y": {"field": "y", "type": "quantitative"}, "order": {"field": "k"}}
            },
            {
              "data": {"values": [{"y0": 0, "y1": 217}]},
              "mark": {"type": "rule", "stroke": "black", "strokeWidth": 1.5},
              "encoding": {"x": {"datum": 9.302, "type": "quantitative"}, "y": {"field": "y0", "type": "quantitative"}, "y2": {"field": "y1"}}
            },
            {
              "data": {"name": "ticksLeft"},
              "mark": {"type": "rule", "stroke": "black", "strokeWidth": 1},
              "encoding": {"x": {"field": "t", "type": "quantitative"}, "y": {"datum": 0, "type": "quantitative"}, "y2": {"datum": -3.5}}
            },
            {
              "data": {"name": "spikeLevel"},
              "transform": [{"filter": "datum.panel === 'bl' && datum.line === 1"}],
              "mark": {"type": "text", "font": "DejaVu Sans", "fontSize": 24, "fill": "#a3a3a3", "align": "left", "baseline": "alphabetic"},
              "encoding": {"x": {"field": "t", "type": "quantitative"}, "y": {"field": "y", "type": "quantitative"}, "text": {"field": "text"}}
            },
            {
              "data": {"name": "spikeLevel"},
              "transform": [{"filter": "datum.panel === 'bl' && datum.line === 2"}],
              "mark": {"type": "text", "font": "DejaVu Sans", "fontWeight": "bold", "fontSize": 26, "fill": "#9c9c9c", "align": "left", "baseline": "alphabetic"},
              "encoding": {"x": {"field": "t", "type": "quantitative"}, "y": {"field": "y", "type": "quantitative"}, "text": {"field": "text"}}
            },
            {
              "data": {"name": "rtLabels"},
              "transform": [{"filter": "datum.panel === 'bl'"}],
              "mark": {"type": "text", "font": "Liberation Sans", "fontWeight": "bold", "fontSize": 14, "fill": "#7a7a7a", "align": "center", "baseline": "alphabetic"},
              "encoding": {"x": {"field": "t", "type": "quantitative"}, "y": {"field": "y", "type": "quantitative"}, "text": {"field": "rt"}}
            },
            {
              "data": {"name": "ionLabels"},
              "transform": [{"filter": "datum.panel === 'bl'"}],
              "mark": {"type": "text", "font": "Liberation Sans", "fontSize": 11, "align": "right", "baseline": "alphabetic", "dx": -1.5, "text": "Ion"},
              "encoding": {"x": {"field": "t", "type": "quantitative"}, "y": {"field": "y", "type": "quantitative"},
                "color": {"condition": {"test": "datum.ion === '478.2'", "value": "#5c5c5c"}, "value": "black"}}
            },
            {
              "data": {"name": "ionLabels"},
              "transform": [{"filter": "datum.panel === 'bl'"}],
              "mark": {"type": "text", "font": "Liberation Sans", "fontWeight": "bold", "fontSize": 16.5, "align": "left", "baseline": "alphabetic", "dx": 1.5},
              "encoding": {"x": {"field": "t", "type": "quantitative"}, "y": {"field": "y", "type": "quantitative"}, "text": {"field": "ion"},
                "color": {"condition": {"test": "datum.ion === '478.2'", "value": "#5c5c5c"}, "value": "black"}}
            }
          ]
        },
        {
          "width": 511,
          "height": 230,
          "layer": [
            {
              "data": {"name": "br"},
              "transform": [{"filter": "datum.ion === '436.2'"}],
              "mark": {"type": "line", "stroke": "black", "strokeWidth": 3.3, "strokeJoin": "round", "clip": true},
              "encoding": {
                "x": {"field": "t", "type": "quantitative", "scale": {"domain": [9.814, 10.1], "nice": false, "zero": false},
                  "axis": {"values": [9.82, 9.84, 9.86, 9.88, 9.9, 9.92, 9.94, 9.96, 9.98, 10, 10.02, 10.04, 10.06, 10.08], "tickCount": 100, "format": ".2f", "ticks": false, "labelOverlap": false}},
                "y": {"field": "y", "type": "quantitative", "scale": {"domain": [0, 230], "nice": false}, "axis": {"values": [0, 8, 16, 24, 32, 40, 48, 56, 64, 72, 80, 88, 96, 104, 112, 120, 128, 136, 144, 152, 160, 168, 176, 184, 192, 200, 208, 216, 224], "tickCount": 100, "labels": false}}
              }
            },
            {
              "data": {"name": "br"},
              "transform": [{"filter": "datum.ion === '350.1'"}],
              "mark": {"type": "line", "stroke": "black", "strokeWidth": 3.3, "strokeJoin": "round", "clip": true},
              "encoding": {"x": {"field": "t", "type": "quantitative"}, "y": {"field": "y", "type": "quantitative"}}
            },
            {
              "data": {"name": "br"},
              "transform": [{"filter": "datum.ion === '290.1'"}],
              "mark": {"type": "line", "stroke": "#555555", "strokeWidth": 3.3, "strokeJoin": "round", "clip": true},
              "encoding": {"x": {"field": "t", "type": "quantitative"}, "y": {"field": "y", "type": "quantitative"}}
            },
            {
              "data": {"values": [{"t": 9.9433, "y": 4}, {"t": 10.055, "y": 1.3}]},
              "mark": {"type": "line", "stroke": "black", "strokeWidth": 1},
              "encoding": {"x": {"field": "t", "type": "quantitative"}, "y": {"field": "y", "type": "quantitative"}}
            },
            {
              "data": {"name": "ticksRight"},
              "mark": {"type": "rule", "stroke": "black", "strokeWidth": 1},
              "encoding": {"x": {"field": "t", "type": "quantitative"}, "y": {"datum": 0, "type": "quantitative"}, "y2": {"datum": -3.5}}
            },
            {
              "data": {"name": "spikeLevel"},
              "transform": [{"filter": "datum.panel === 'br' && datum.line === 1"}],
              "mark": {"type": "text", "font": "DejaVu Sans", "fontSize": 24, "fill": "#a3a3a3", "align": "left", "baseline": "alphabetic"},
              "encoding": {"x": {"field": "t", "type": "quantitative"}, "y": {"field": "y", "type": "quantitative"}, "text": {"field": "text"}}
            },
            {
              "data": {"name": "spikeLevel"},
              "transform": [{"filter": "datum.panel === 'br' && datum.line === 2"}],
              "mark": {"type": "text", "font": "DejaVu Sans", "fontWeight": "bold", "fontSize": 26, "fill": "#9c9c9c", "align": "left", "baseline": "alphabetic"},
              "encoding": {"x": {"field": "t", "type": "quantitative"}, "y": {"field": "y", "type": "quantitative"}, "text": {"field": "text"}}
            },
            {
              "data": {"name": "rtLabels"},
              "transform": [{"filter": "datum.panel === 'br'"}],
              "mark": {"type": "text", "font": "Liberation Sans", "fontWeight": "bold", "fontSize": 14, "fill": "#7a7a7a", "align": "center", "baseline": "alphabetic"},
              "encoding": {"x": {"field": "t", "type": "quantitative"}, "y": {"field": "y", "type": "quantitative"}, "text": {"field": "rt"}}
            },
            {
              "data": {"name": "ionLabels"},
              "transform": [{"filter": "datum.panel === 'br'"}],
              "mark": {"type": "text", "font": "Liberation Sans", "fontSize": 11, "fill": "black", "align": "right", "baseline": "alphabetic", "dx": -1.5, "text": "Ion"},
              "encoding": {"x": {"field": "t", "type": "quantitative"}, "y": {"field": "y", "type": "quantitative"}}
            },
            {
              "data": {"name": "ionLabels"},
              "transform": [{"filter": "datum.panel === 'br'"}],
              "mark": {"type": "text", "font": "Liberation Sans", "fontWeight": "bold", "fontSize": 16.5, "fill": "black", "align": "left", "baseline": "alphabetic", "dx": 1.5},
              "encoding": {"x": {"field": "t", "type": "quantitative"}, "y": {"field": "y", "type": "quantitative"}, "text": {"field": "ion"}}
            },
            {
              "data": {"values": [{"t": 9.9674, "y": 26.3}]},
              "mark": {"type": "text", "font": "Liberation Sans", "fontSize": 12, "fill": "black", "align": "center", "baseline": "alphabetic", "text": "Ion"},
              "encoding": {"x": {"field": "t", "type": "quantitative"}, "y": {"field": "y", "type": "quantitative"}}
            },
            {
              "data": {"values": [{"t": 9.9679, "y": 6.3, "ion": "436.2"}]},
              "mark": {"type": "text", "font": "Liberation Sans", "fontWeight": "bold", "fontSize": 18, "fill": "black", "align": "center", "baseline": "alphabetic"},
              "encoding": {"x": {"field": "t", "type": "quantitative"}, "y": {"field": "y", "type": "quantitative"}, "text": {"field": "ion"}}
            }
          ]
        }
      ]
    }
  ]
}
